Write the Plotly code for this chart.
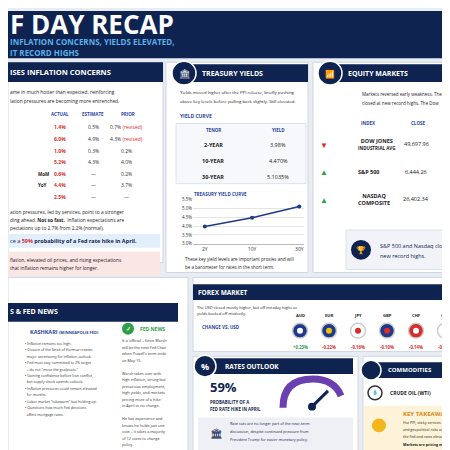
import plotly.graph_objects as go

W = 450
NAVY = "#0f2350"
RED = "#d62d2d"
GREEN = "#2e9e4a"

tenors = ["2Y", "10Y", "30Y"]
yields = [3.98, 4.47, 5.1035]
yield_labels = ["3.98%", "4.470%", "5.1035%"]
tenor_names = ["2-YEAR", "10-YEAR", "30-YEAR"]

ppi_actual = ["1.4%", "6.0%", "1.0%", "5.2%", "0.6%", "4.4%", "2.5%"]
ppi_estimate = ["0.5%", "4.9%", "0.3%", "4.3%", "—", "—", "—"]
ppi_prior = ["0.7%", "4.3%", "0.2%", "4.0%", "0.2%", "3.7%", "—"]
ppi_labels = ["", "", "", "", "MoM", "YoY", ""]

indices = ["DOW JONES<br><span style='font-size:4.5px'>INDUSTRIAL AVG</span>", "S&P 500", "NASDAQ<br>COMPOSITE"]
closes = ["49,697.96", "6,444.26", "26,402.34"]
index_up = [False, True, True]

currencies = ["AUD", "EUR", "JPY", "GBP", "CHF", "CAD"]
fx_change = ["+0.23%", "-0.22%", "-0.16%", "-0.10%", "-0.14%", "-0.07%"]
flag_colors = ["#1f3a8a", "#1f3a8a", "#ffffff", "#1f3a8a", "#d62d2d", "#ffffff"]
flag_dots = ["#ffffff", "#f2c200", "#d62d2d", "#d62d2d", "#ffffff", "#d62d2d"]

fig = go.Figure()
shapes, ann = [], []


def px(x):
    return x / W


def py(y):
    return 1 - y / W


def rect(x0, y0, x1, y1, fill, line=None):
    shapes.append(dict(type="rect", xref="paper", yref="paper", x0=px(x0), x1=px(x1),
                       y0=py(y1), y1=py(y0), fillcolor=fill,
                       line=dict(color=line or fill, width=1 if line else 0), layer="below"))


def circ(cx, cy, rr, fill, line=None):
    shapes.append(dict(type="circle", xref="paper", yref="paper", x0=px(cx - rr), x1=px(cx + rr),
                       y0=py(cy + rr), y1=py(cy - rr), fillcolor=fill,
                       line=dict(color=line or fill, width=1.5 if line else 0)))


def text(x, y, s, size=5, color="#222", bold=False, anchor="left"):
    if bold:
        s = "<b>" + s + "</b>"
    ann.append(dict(xref="paper", yref="paper", x=px(x), y=py(y), text=s, showarrow=False,
                    xanchor=anchor, yanchor="middle", font=dict(size=size, color=color,
                                                                family="Open Sans")))


# background and header
rect(0, 0, 450, 450, "#e8ecf3")
rect(0, 0, 450, 48, NAVY)
text(0, 13, "F DAY RECAP", 26, "white", True)
text(0, 30.5, "INFLATION CONCERNS, YIELDS ELEVATED,", 8, "#5ab0e8", True)
text(0, 42, "IT RECORD HIGHS", 8, "#5ab0e8", True)

# PPI panel
rect(0, 52, 155, 255, "white", "#d0d6e2")
rect(0, 52, 155, 72, NAVY)
text(0, 62, "ISES INFLATION CONCERNS", 7.5, "white", True)
text(0, 82, "ame in much hotter than expected, reinforcing", 4.8)
text(0, 91, "lation pressures are becoming more entrenched.", 4.8)
for x, h in [(52, "ACTUAL"), (85, "ESTIMATE"), (120, "PRIOR")]:
    text(x, 104, h, 4.5, "#2845a0", True, "center")
for i in range(len(ppi_actual)):
    y = 118 + i * 11.7
    text(28, y, ppi_labels[i], 4.5, "#222", True)
    text(52, y, ppi_actual[i], 5, RED, True, "center")
    text(85, y, ppi_estimate[i], 5, "#333", False, "center")
    pr = ppi_prior[i]
    if i < 2:
        pr += " <span style='color:#d62d2d'>(revised)</span>"
    text(118, y, pr, 5, "#333", False, "center")
text(0, 204, "ation pressures, led by services, point to a stronger", 4.8)
text(0, 212, "ding ahead. <b>Not so fast.</b>  Inflation expectations are", 4.8)
text(0, 220, "pectations up to 2.7% from 2.2% (normal).", 4.8)
rect(0, 226, 152, 240, "#e3eefb")
text(0, 233, "ce a <span style='color:#d62d2d'><b>59%</b></span> <b>probability of a Fed rate hike in April.</b>",
     5.5, NAVY)
rect(0, 244, 152, 268, "#fbe6e6")
text(0, 252, "flation, elevated oil prices, and rising expectations", 4.8)
text(0, 260, "that inflation remains higher for longer.", 4.8)

# Treasury panel
rect(158, 52, 300, 265, "white", "#d0d6e2")
rect(175, 54, 300, 72, NAVY)
circ(176, 63, 12, NAVY, "white")
text(176, 63, "🏛", 9, "white", False, "center")
text(192, 63, "TREASURY YIELDS", 7, "white", True)
text(170, 82, "Yields moved higher after the PPI release, briefly pushing", 4.3)
text(170, 91, "above key levels before pulling back slightly. Still elevated.", 4.3)
text(170, 106, "YIELD CURVE", 5, "#2845a0", True)
rect(168, 114, 298, 175, "#f7f8fb", "#dde2ea")
text(205, 121, "TENOR", 4.5, "#2845a0", True, "center")
text(270, 121, "YIELD", 4.5, "#2845a0", True, "center")
for i in range(3):
    y = 136 + i * 16
    text(205, y, tenor_names[i], 5.5, "#222", True, "center")
    text(270, y, yield_labels[i], 5.5, "#222", False, "center")
text(184, 185, "TREASURY YIELD CURVE", 4.5, "#2845a0", True)
text(175, 251, "These key yield levels are important proxies and will", 4.5)
text(175, 259, "be a barometer for rates in the short term.", 4.5)

fig.add_trace(go.Scatter(x=tenors, y=yields, mode="lines+markers", xaxis="x", yaxis="y",
                         line=dict(color="#1f3a8a", width=1.5), marker=dict(size=4, color="#1f3a8a")))
fig.update_layout(
    xaxis=dict(domain=[px(185), px(296)], anchor="y", tickfont=dict(size=5, color="#333"),
               showgrid=False, showline=True, linecolor="#bbb", range=[-0.25, 2.1]),
    yaxis=dict(domain=[py(236), py(191)], anchor="x", range=[3.0, 5.5], dtick=0.5,
               ticksuffix="%", tickformat=".1f", tickfont=dict(size=4.5, color="#333"),
               gridcolor="#e4e4e4", showline=False, zeroline=False),
)

# Equity panel
rect(305, 52, 450, 265, "white", "#d0d6e2")
rect(320, 54, 450, 72, NAVY)
circ(322, 63, 12, NAVY, "white")
text(322, 63, "📶", 8, "white", False, "center")
text(338, 63, "EQUITY MARKETS", 7, "white", True)
text(352, 84, "Markets reversed early weakness. The", 4.5)
text(352, 93, "closed at new record highs. The Dow", 4.5)
text(360, 114, "INDEX", 4.5, "#2845a0", True, "center")
text(410, 114, "CLOSE", 4.5, "#2845a0", True, "center")
for i in range(3):
    y = 135 + i * 28
    text(316, y, "▲" if index_up[i] else "▼", 8, GREEN if index_up[i] else RED, False, "center")
    text(348, y, indices[i], 5.5, "#222", True)
    text(408, y, closes[i], 5.5, "#222", False, "center")
rect(338, 222, 450, 262, "#f1f3f8", "#dde2ea")
circ(353, 242, 10, NAVY)
text(353, 242, "🏆", 8, "white", False, "center")
text(370, 238, "S&P 500 and Nasdaq close", 5.5, NAVY)
text(370, 248, "new record highs.", 5.5, NAVY)

# Fed news panel
rect(0, 270, 180, 450, "white", "#d0d6e2")
rect(0, 296, 170, 315, NAVY)
text(0, 305, "S & FED NEWS", 7, "white", True)
text(20, 325, "KASHKARI <span style='font-size:4px'>(MINNEAPOLIS FED)</span>", 5.5, "#2845a0", True)
kb = ["• Inflation remains too high.", "• Closure of the Strait of Hormuz creates",
      "  major uncertainty for inflation outlook.", "• Fed must stay committed to 2% target",
      "  – do not \"move the goalposts.\"", "• Gaining confidence before Iran conflict,",
      "  but supply shock upends outlook.", "• Inflation pressures could remain elevated",
      "  for months.", "• Labor market \"lukewarm\" but holding up.",
      "• Questions how much Fed decisions", "  affect mortgage rates."]
for i, s in enumerate(kb):
    text(15, 337 + i * 6.5, s, 3.6, "#333")
circ(120, 322, 6, GREEN)
text(120, 322, "✓", 6, "white", True, "center")
text(130, 322, "FED NEWS", 5, GREEN, True)
fb = ["It is official – Kevin Warsh", "will be the next Fed Chair", "when Powell's term ends",
      "on May 15.", "", "Warsh takes over with", "high inflation, strong but",
      "precarious employment,", "high yields, and markets", "pricing more of a hike",
      "in April vs no change.", "", "He has experience and", "knows he holds just one",
      "vote – it takes a majority", "of 12 votes to change", "policy."]
for i, s in enumerate(fb):
    text(112, 334 + i * 6.6, s, 3.8, "#333")

# Forex panel
rect(185, 270, 450, 345, "white", "#d0d6e2")
rect(185, 277, 450, 293, NAVY)
text(188, 285, "FOREX MARKET", 6.5, "white", True)
text(187, 300, "The USD closed mostly higher, but off intraday highs as", 3.9)
text(187, 307, "yields backed off modestly.", 3.9)
text(213, 320, "CHANGE VS. USD", 4.5, "#2845a0", True, "center")
for i, c in enumerate(currencies):
    x = 292 + i * 29
    text(x, 309, c, 4.2, "#222", True, "center")
    circ(x, 324, 7.5, flag_colors[i], "#ccc")
    circ(x, 324, 3, flag_dots[i])
    text(x, 341, fx_change[i], 4.3, GREEN if fx_change[i][0] == "+" else RED, True, "center")

# Rates outlook
rect(185, 350, 350, 450, "white", "#d0d6e2")
rect(195, 352, 345, 368, NAVY)
circ(197, 360, 11, NAVY, "white")
text(197, 360, "%", 9, "white", True, "center")
text(215, 360, "RATES OUTLOOK", 6.5, "white", True)
text(200, 381, "59%", 13, NAVY, True)
text(200, 396, "PROBABILITY OF A", 4.3, NAVY, True)
text(200, 403, "FED RATE HIKE IN APRIL", 4.3, NAVY, True)
shapes.append(dict(type="path", xref="paper", yref="paper",
                   path="M %f %f Q %f %f %f %f" % (px(275), py(402), px(275), py(373),
                                                   px(305), py(373)) + " Q %f %f %f %f" % (
                       px(326), py(373), px(333), py(390)),
                   line=dict(color="#6a3fb0", width=7)))
shapes.append(dict(type="line", xref="paper", yref="paper", x0=px(305), y0=py(400),
                   x1=px(320), y1=py(385), line=dict(color=NAVY, width=3)))
circ(304, 401, 4, NAVY)
rect(190, 412, 345, 445, "#eef0f6")
text(208, 428, "🏛", 10, NAVY, False, "center")
text(220, 418, "Rate cuts are no longer part of the near-term", 3.8, NAVY)
text(220, 426, "discussion, despite continued pressure from", 3.8, NAVY)
text(220, 434, "President Trump for easier monetary policy.", 3.8, NAVY)

# Commodities
rect(355, 350, 450, 450, "white", "#d0d6e2")
rect(360, 356, 450, 372, NAVY)
circ(363, 364, 10, NAVY, "white")
text(378, 364, "COMMODITIES", 6, "white", True)
circ(367, 387, 7, "white", "#333")
text(367, 387, "💧", 5, "#111", False, "center")
text(380, 387, "CRUDE OIL (WTI)", 5, "#222", True)
rect(356, 400, 450, 445, "#fdf3d8")
circ(371, 420, 7, "#f2b51c")
text(393, 408, "KEY TAKEAWAY", 6, "#d9891a", True)
text(393, 417, "Hot PPI, sticky services i", 3.6)
text(393, 424, "and geopolitical risks are", 3.6)
text(393, 431, "the Fed and rates eleva", 3.6)
text(393, 439, "Markets are pricing m", 3.6, "#222", True)

fig.update_layout(width=450, height=450, margin=dict(l=0, r=0, t=0, b=0),
                  paper_bgcolor="#e8ecf3", plot_bgcolor="white", showlegend=False,
                  shapes=shapes, annotations=ann)
fig.write_html("out.html")
